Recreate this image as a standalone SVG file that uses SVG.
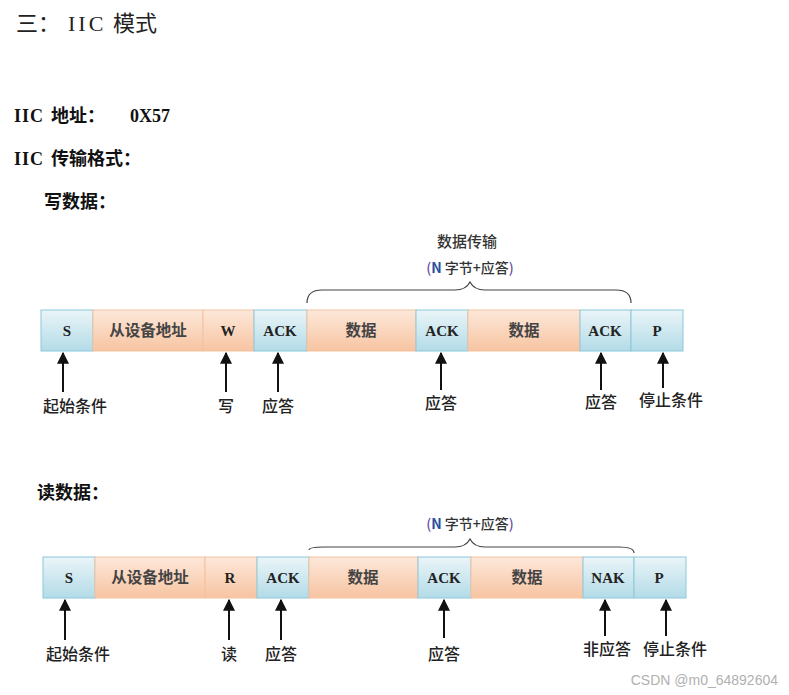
<svg xmlns="http://www.w3.org/2000/svg" width="789" height="695" viewBox="0 0 789 695">
<defs>
<linearGradient id="gb" x1="0" y1="0" x2="0" y2="1"><stop offset="0" stop-color="#eaf5f8"/><stop offset="1" stop-color="#b3dbe7"/></linearGradient>
<linearGradient id="go" x1="0" y1="0" x2="0" y2="1"><stop offset="0" stop-color="#fde8da"/><stop offset="1" stop-color="#f7c4a1"/></linearGradient>
<marker id="ah" viewBox="0 0 10 10" refX="9" refY="5" markerWidth="6" markerHeight="6" orient="auto"><path d="M0,0 L10,5 L0,10 z" fill="#111"/></marker>
<style>
.b{fill:url(#gb);stroke:#8cc8da;stroke-width:1}
.o{fill:url(#go);stroke:#f3c2a0;stroke-width:1}
.bl{font-family:"Liberation Serif","Noto Sans CJK SC",serif;font-weight:bold;font-size:15px;fill:#222;text-anchor:middle}
.cn{font-family:"Noto Sans CJK SC",sans-serif;font-size:15.5px;font-weight:bold;fill:#444;text-anchor:middle}
.tp{font-family:"Noto Sans CJK SC",sans-serif;font-size:14px;font-weight:500;fill:#333;text-anchor:middle}
.lb{font-family:"Noto Sans CJK SC",sans-serif;font-size:16px;font-weight:500;fill:#222;text-anchor:middle}
.h{font-family:"Liberation Serif","Noto Sans CJK SC",serif;font-weight:bold;font-size:18px;fill:#111}
.ar{stroke:#111;stroke-width:2;fill:none;marker-end:url(#ah)}
.br{stroke:#444;stroke-width:1.2;fill:none}
</style>
</defs>
<rect width="789" height="695" fill="#fff"/>
<g id="titles">
<text y="31" font-family="Liberation Serif,'Noto Sans CJK SC',serif" font-size="22" fill="#222"><tspan x="16">三：</tspan><tspan x="68" letter-spacing="3">IIC</tspan><tspan x="113">模式</tspan></text>
<text class="h" y="122"><tspan x="14" letter-spacing="1">IIC</tspan><tspan x="51">地址：</tspan><tspan x="130">0X57</tspan></text>
<text class="h" y="165"><tspan x="14" letter-spacing="1">IIC</tspan><tspan x="51">传输格式：</tspan></text>
<text class="h" x="44" y="208">写数据：</text>
<text class="h" x="37" y="499">读数据：</text>
</g>
<g id="write-frame">
<g id="w-s"><rect class="b" x="41" y="310" width="52" height="41"/><text class="bl" x="67" y="336">S</text></g>
<g id="w-addr"><rect class="o" x="93" y="310" width="110" height="41"/><text class="cn" x="148" y="336">从设备地址</text></g>
<g id="w-w"><rect class="o" x="203" y="310" width="51" height="41"/><text class="bl" x="228" y="336">W</text></g>
<g id="w-ack1"><rect class="b" x="254" y="310" width="53" height="41"/><text class="bl" x="280" y="336">ACK</text></g>
<g id="w-d1"><rect class="o" x="307" y="310" width="109" height="41"/><text class="cn" x="361" y="336">数据</text></g>
<g id="w-ack2"><rect class="b" x="416" y="310" width="52" height="41"/><text class="bl" x="442" y="336">ACK</text></g>
<g id="w-d2"><rect class="o" x="468" y="310" width="112" height="41"/><text class="cn" x="524" y="336">数据</text></g>
<g id="w-ack3"><rect class="b" x="580" y="310" width="51" height="41"/><text class="bl" x="605" y="336">ACK</text></g>
<g id="w-p"><rect class="b" x="631" y="310" width="52" height="41"/><text class="bl" x="657" y="336">P</text></g>
<text class="tp" x="467" y="247" style="font-size:15px">数据传输</text>
<text class="tp" x="470" y="273"><tspan fill="#6a4fa0">(</tspan><tspan fill="#2a4ea0" font-weight="bold">N</tspan> 字节+应答<tspan fill="#6a4fa0">)</tspan></text>
<text class="lb" x="75" y="412">起始条件</text>
<text class="lb" x="226" y="412">写</text>
<text class="lb" x="278" y="412">应答</text>
<text class="lb" x="441" y="409">应答</text>
<text class="lb" x="601" y="408">应答</text>
<text class="lb" x="671" y="406">停止条件</text>
</g>
<g id="read-frame">
<g id="r-s"><rect class="b" x="43" y="557" width="52" height="41"/><text class="bl" x="69" y="583">S</text></g>
<g id="r-addr"><rect class="o" x="95" y="557" width="110" height="41"/><text class="cn" x="150" y="583">从设备地址</text></g>
<g id="r-r"><rect class="o" x="205" y="557" width="52" height="41"/><text class="bl" x="230" y="583">R</text></g>
<g id="r-ack1"><rect class="b" x="257" y="557" width="52" height="41"/><text class="bl" x="283" y="583">ACK</text></g>
<g id="r-d1"><rect class="o" x="309" y="557" width="109" height="41"/><text class="cn" x="363" y="583">数据</text></g>
<g id="r-ack2"><rect class="b" x="418" y="557" width="53" height="41"/><text class="bl" x="444" y="583">ACK</text></g>
<g id="r-d2"><rect class="o" x="471" y="557" width="112" height="41"/><text class="cn" x="527" y="583">数据</text></g>
<g id="r-nak"><rect class="b" x="583" y="557" width="51" height="41"/><text class="bl" x="608" y="583">NAK</text></g>
<g id="r-p"><rect class="b" x="634" y="557" width="52" height="41"/><text class="bl" x="659" y="583">P</text></g>
<text class="tp" x="470" y="529"><tspan fill="#6a4fa0">(</tspan><tspan fill="#2a4ea0" font-weight="bold">N</tspan> 字节+应答<tspan fill="#6a4fa0">)</tspan></text>
<text class="lb" x="78" y="660">起始条件</text>
<text class="lb" x="229" y="660">读</text>
<text class="lb" x="281" y="660">应答</text>
<text class="lb" x="444" y="660">应答</text>
<text class="lb" x="607" y="655">非应答</text>
<text class="lb" x="675" y="655">停止条件</text>
</g>
<g id="connectors">
<path class="br" d="M307,303 Q307,290 322,290 L455,290 Q466,290 470,282 Q474,290 485,290 L616,290 Q631,290 631,303"/>
<path class="br" d="M309,550 Q309,547 324,547 L455,547 Q466,547 470,539 Q474,547 485,547 L619,547 Q634,547 634,553"/>
<line class="ar" x1="63" y1="392" x2="63" y2="353"/>
<line class="ar" x1="226" y1="392" x2="226" y2="353"/>
<line class="ar" x1="278" y1="392" x2="278" y2="353"/>
<line class="ar" x1="441" y1="390" x2="441" y2="353"/>
<line class="ar" x1="601" y1="390" x2="601" y2="353"/>
<line class="ar" x1="663" y1="388" x2="663" y2="353"/>
<line class="ar" x1="65" y1="640" x2="65" y2="600"/>
<line class="ar" x1="229" y1="640" x2="229" y2="600"/>
<line class="ar" x1="281" y1="640" x2="281" y2="600"/>
<line class="ar" x1="444" y1="638" x2="444" y2="600"/>
<line class="ar" x1="605" y1="636" x2="605" y2="600"/>
<line class="ar" x1="666" y1="636" x2="666" y2="600"/>
</g>
<text x="778" y="685" text-anchor="end" font-family="Liberation Sans,sans-serif" font-size="14" fill="#b0b0b0">CSDN @m0_64892604</text>
</svg>
